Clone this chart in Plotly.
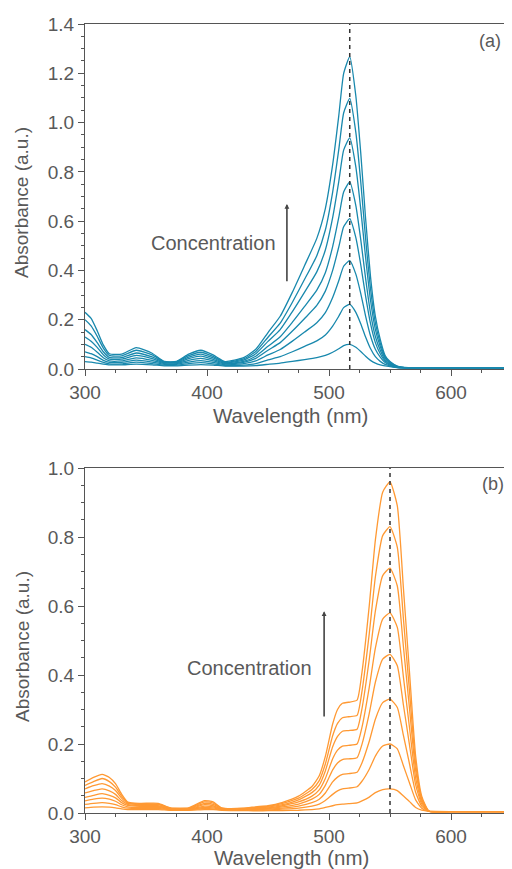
import plotly.graph_objects as go

# ---------------- data ----------------
wl_a = [300, 305, 310, 315, 320, 330, 342, 355, 365, 375, 385, 395, 405, 415,
        430, 440, 450, 460, 470, 480, 490, 497, 503, 508, 512, 517, 522, 526,
        530, 534, 538, 542, 546, 550, 556, 565, 600, 650]

a1 = [0.03, 0.028, 0.024, 0.02, 0.017, 0.017, 0.02, 0.017, 0.013, 0.013, 0.016, 0.018, 0.016, 0.012,
      0.012, 0.014, 0.019, 0.024, 0.031, 0.038, 0.046, 0.055, 0.068, 0.082, 0.095, 0.100, 0.088, 0.071,
      0.052, 0.035, 0.024, 0.017, 0.013, 0.010, 0.006, 0.005, 0.004, 0.004]
a2 = [0.05, 0.045, 0.036, 0.027, 0.021, 0.021, 0.028, 0.022, 0.016, 0.016, 0.022, 0.026, 0.021, 0.014,
      0.016, 0.022, 0.037, 0.050, 0.070, 0.092, 0.114, 0.138, 0.174, 0.214, 0.249, 0.262, 0.230, 0.184,
      0.130, 0.083, 0.050, 0.031, 0.019, 0.013, 0.006, 0.005, 0.004, 0.004]
a3 = [0.07, 0.062, 0.05, 0.035, 0.027, 0.027, 0.036, 0.028, 0.019, 0.019, 0.028, 0.034, 0.027, 0.017,
      0.022, 0.033, 0.057, 0.079, 0.113, 0.150, 0.188, 0.229, 0.290, 0.358, 0.417, 0.440, 0.385, 0.307,
      0.215, 0.135, 0.080, 0.048, 0.026, 0.016, 0.007, 0.005, 0.004, 0.004]
a4 = [0.10, 0.088, 0.068, 0.046, 0.033, 0.033, 0.045, 0.035, 0.022, 0.022, 0.035, 0.043, 0.033, 0.02,
      0.027, 0.043, 0.076, 0.107, 0.154, 0.205, 0.258, 0.316, 0.400, 0.495, 0.577, 0.610, 0.533, 0.424,
      0.296, 0.185, 0.107, 0.062, 0.032, 0.019, 0.008, 0.005, 0.004, 0.004]
a5 = [0.13, 0.113, 0.088, 0.058, 0.04, 0.04, 0.055, 0.042, 0.025, 0.025, 0.042, 0.052, 0.039, 0.022,
      0.031, 0.052, 0.092, 0.131, 0.190, 0.254, 0.320, 0.391, 0.497, 0.615, 0.718, 0.759, 0.663, 0.526,
      0.368, 0.228, 0.132, 0.076, 0.037, 0.021, 0.009, 0.005, 0.004, 0.004]
a6 = [0.16, 0.14, 0.107, 0.07, 0.047, 0.046, 0.065, 0.049, 0.027, 0.027, 0.048, 0.06, 0.045, 0.025,
      0.036, 0.062, 0.112, 0.160, 0.233, 0.312, 0.394, 0.483, 0.614, 0.760, 0.888, 0.938, 0.820, 0.650,
      0.453, 0.280, 0.161, 0.091, 0.044, 0.024, 0.010, 0.005, 0.004, 0.004]
a7 = [0.20, 0.175, 0.133, 0.085, 0.055, 0.053, 0.076, 0.057, 0.029, 0.029, 0.054, 0.068, 0.051, 0.027,
      0.041, 0.071, 0.129, 0.186, 0.271, 0.364, 0.460, 0.564, 0.718, 0.890, 1.039, 1.098, 0.960, 0.761,
      0.530, 0.327, 0.187, 0.105, 0.049, 0.027, 0.011, 0.005, 0.004, 0.004]
a8 = [0.23, 0.205, 0.155, 0.098, 0.062, 0.06, 0.087, 0.064, 0.031, 0.031, 0.06, 0.076, 0.057, 0.03,
      0.046, 0.08, 0.148, 0.214, 0.312, 0.420, 0.530, 0.651, 0.829, 1.027, 1.199, 1.268, 1.108, 0.878,
      0.611, 0.376, 0.214, 0.120, 0.055, 0.030, 0.012, 0.005, 0.004, 0.004]

wl_b = [300, 307, 314, 320, 325, 330, 335, 345, 360, 370, 385, 398, 405, 412, 430,
        440, 450, 462, 475, 486, 492, 497, 503, 507, 511, 516, 523, 527, 533, 538,
        544, 550, 556, 561, 566, 571, 576, 582, 600, 650]

b1 = [0.015, 0.017, 0.018, 0.017, 0.015, 0.012, 0.01, 0.01, 0.01, 0.008, 0.008, 0.01, 0.01, 0.008, 0.007,
      0.006, 0.007, 0.007, 0.008, 0.010, 0.012, 0.016, 0.021, 0.024, 0.026, 0.027, 0.029, 0.035, 0.046, 0.059,
      0.068, 0.070, 0.065, 0.049, 0.033, 0.016, 0.008, 0.005, 0.004, 0.004]
b2 = [0.025, 0.028, 0.03, 0.028, 0.024, 0.018, 0.014, 0.013, 0.013, 0.009, 0.009, 0.013, 0.012, 0.009, 0.008,
      0.008, 0.009, 0.011, 0.014, 0.020, 0.026, 0.036, 0.054, 0.064, 0.070, 0.072, 0.076, 0.092, 0.127, 0.165,
      0.194, 0.200, 0.186, 0.137, 0.087, 0.038, 0.014, 0.005, 0.004, 0.004]
b3 = [0.035, 0.04, 0.043, 0.04, 0.034, 0.024, 0.018, 0.016, 0.016, 0.01, 0.01, 0.016, 0.015, 0.01, 0.009,
      0.010, 0.011, 0.014, 0.020, 0.030, 0.040, 0.058, 0.090, 0.104, 0.112, 0.114, 0.118, 0.145, 0.208, 0.272,
      0.320, 0.330, 0.306, 0.225, 0.142, 0.060, 0.020, 0.005, 0.004, 0.004]
b4 = [0.045, 0.051, 0.056, 0.051, 0.044, 0.03, 0.022, 0.019, 0.019, 0.011, 0.011, 0.02, 0.018, 0.011, 0.01,
      0.011, 0.013, 0.018, 0.026, 0.040, 0.054, 0.080, 0.125, 0.145, 0.155, 0.157, 0.160, 0.199, 0.289, 0.379,
      0.446, 0.460, 0.427, 0.313, 0.197, 0.082, 0.026, 0.005, 0.004, 0.004]
b5 = [0.058, 0.065, 0.07, 0.064, 0.054, 0.036, 0.025, 0.021, 0.021, 0.012, 0.012, 0.024, 0.021, 0.012, 0.011,
      0.013, 0.015, 0.021, 0.032, 0.049, 0.067, 0.100, 0.157, 0.182, 0.194, 0.196, 0.200, 0.248, 0.364, 0.478,
      0.562, 0.580, 0.538, 0.394, 0.247, 0.102, 0.032, 0.005, 0.004, 0.004]
b6 = [0.07, 0.079, 0.085, 0.078, 0.065, 0.043, 0.028, 0.024, 0.024, 0.013, 0.013, 0.028, 0.025, 0.013, 0.012,
      0.015, 0.017, 0.024, 0.038, 0.059, 0.081, 0.122, 0.192, 0.222, 0.237, 0.239, 0.243, 0.302, 0.445, 0.585,
      0.688, 0.710, 0.658, 0.482, 0.302, 0.124, 0.038, 0.005, 0.004, 0.004]
b7 = [0.08, 0.091, 0.1, 0.091, 0.075, 0.049, 0.03, 0.026, 0.026, 0.014, 0.014, 0.032, 0.029, 0.014, 0.013,
      0.016, 0.019, 0.028, 0.043, 0.068, 0.094, 0.142, 0.224, 0.260, 0.276, 0.279, 0.283, 0.352, 0.520, 0.684,
      0.804, 0.830, 0.770, 0.563, 0.352, 0.144, 0.043, 0.005, 0.004, 0.004]
b8 = [0.09, 0.103, 0.112, 0.103, 0.085, 0.055, 0.032, 0.028, 0.028, 0.015, 0.015, 0.036, 0.032, 0.015, 0.014,
      0.018, 0.021, 0.031, 0.049, 0.077, 0.108, 0.164, 0.258, 0.300, 0.318, 0.321, 0.327, 0.407, 0.601, 0.791,
      0.930, 0.960, 0.890, 0.651, 0.407, 0.166, 0.049, 0.005, 0.004, 0.004]

series_a = [a1, a2, a3, a4, a5, a6, a7, a8]
series_b = [b1, b2, b3, b4, b5, b6, b7, b8]
peak_wavelengths = [517, 550]
x_ticks = [300, 400, 500, 600]
panel_labels = ["(a)", "(b)"]
arrow_text = "Concentration"
x_title = "Wavelength (nm)"
y_title = "Absorbance (a.u.)"

# ---------------- styling ----------------
TEAL = "#1888ad"
ORANGE = "#ff9933"
TXT = "#595959"
AX = "#555555"
FONT = "Liberation Sans, Arial, sans-serif"
# page body has an 8px margin; figure covers window pixels 8..512 x 8..869
OFF = 8
W, H = 512 - OFF, 869 - OFF


def px_x(p):
    return (p - OFF) / W


def px_y(p):
    return 1 - (p - OFF) / H


fig = go.Figure()
for ys in series_a:
    fig.add_trace(go.Scatter(x=wl_a, y=ys, mode="lines", xaxis="x", yaxis="y",
                             line=dict(color=TEAL, width=1.3, shape="spline", smoothing=0.5),
                             showlegend=False, hoverinfo="skip"))
for ys in series_b:
    fig.add_trace(go.Scatter(x=wl_b, y=ys, mode="lines", xaxis="x2", yaxis="y2",
                             line=dict(color=ORANGE, width=1.3, shape="spline", smoothing=0.5),
                             showlegend=False, hoverinfo="skip"))


def xax(domain_anchor):
    return dict(range=[300, 650], domain=[px_x(85), 1.0], anchor=domain_anchor, automargin=False,
                tickvals=x_ticks, ticks="outside", ticklen=6, tickwidth=1.2, tickcolor=AX,
                minor=dict(dtick=25, tick0=300, ticks="outside", ticklen=3, tickcolor=AX, tickwidth=1.2),
                showline=True, linecolor=AX, linewidth=1.3, mirror=True, showgrid=False, zeroline=False,
                tickfont=dict(family=FONT, size=19, color=TXT))


def yax(rng, domain, anchor):
    return dict(range=rng, domain=domain, anchor=anchor, dtick=0.2, tickformat=".1f", automargin=False,
                ticks="outside", ticklen=6, tickwidth=1.2, tickcolor=AX,
                minor=dict(dtick=0.05, ticks="outside", ticklen=3, tickcolor=AX, tickwidth=1.2),
                showline=True, linecolor=AX, linewidth=1.3, mirror=False, showgrid=False, zeroline=False,
                tickfont=dict(family=FONT, size=19, color=TXT))


fig.update_layout(
    width=W, height=H, margin=dict(l=0, r=0, t=0, b=0),
    paper_bgcolor="white", plot_bgcolor="white",
    xaxis=xax("y"),
    yaxis=yax([0, 1.4], [px_y(369), px_y(24)], "x"),
    xaxis2=xax("y2"),
    yaxis2=yax([0, 1.0], [px_y(813), px_y(468)], "x2"),
)

# axis titles (placed as text in page coordinates)
for (cx, cy) in [(290, 415), (291, 857)]:
    fig.add_annotation(text=x_title, xref="paper", yref="paper", x=px_x(cx), y=px_y(cy),
                       showarrow=False, xanchor="center", yanchor="middle",
                       font=dict(family=FONT, size=20.5, color=TXT))
for (cx, cy) in [(21, 203), (22, 647)]:
    fig.add_annotation(text=y_title, xref="paper", yref="paper", x=px_x(cx), y=px_y(cy),
                       showarrow=False, xanchor="center", yanchor="middle", textangle=-90,
                       font=dict(family=FONT, size=19, color=TXT))

# dashed peak markers
fig.add_shape(type="line", xref="x", yref="y", x0=peak_wavelengths[0], x1=peak_wavelengths[0], y0=0, y1=1.4,
              line=dict(color="#333333", width=1.5, dash="4px,4px"))
fig.add_shape(type="line", xref="x2", yref="y2", x0=peak_wavelengths[1], x1=peak_wavelengths[1], y0=0, y1=1.0,
              line=dict(color="#333333", width=1.5, dash="4px,4px"))

# panel labels
fig.add_annotation(text=panel_labels[0], xref="x", yref="y", x=643, y=1.33, showarrow=False,
                   xanchor="right", font=dict(family=FONT, size=18, color=TXT))
fig.add_annotation(text=panel_labels[1], xref="x2", yref="y2", x=645, y=0.955, showarrow=False,
                   xanchor="right", font=dict(family=FONT, size=18, color=TXT))

# concentration text + arrows
fig.add_annotation(text=arrow_text, xref="x", yref="y", x=458, y=0.51, showarrow=False,
                   xanchor="right", font=dict(family=FONT, size=20, color=TXT))
fig.add_annotation(xref="x", yref="y", x=465.5, y=0.67, axref="x", ayref="y", ax=465.5, ay=0.35,
                   showarrow=True, arrowhead=2, arrowsize=0.6, arrowwidth=1.6, arrowcolor="#444444", text="")
fig.add_annotation(text=arrow_text, xref="x2", yref="y2", x=488, y=0.42, showarrow=False,
                   xanchor="right", font=dict(family=FONT, size=20, color=TXT))
fig.add_annotation(xref="x2", yref="y2", x=496, y=0.585, axref="x2", ayref="y2", ax=496, ay=0.275,
                   showarrow=True, arrowhead=2, arrowsize=0.6, arrowwidth=1.6, arrowcolor="#444444", text="")

fig.write_html("out.html")
